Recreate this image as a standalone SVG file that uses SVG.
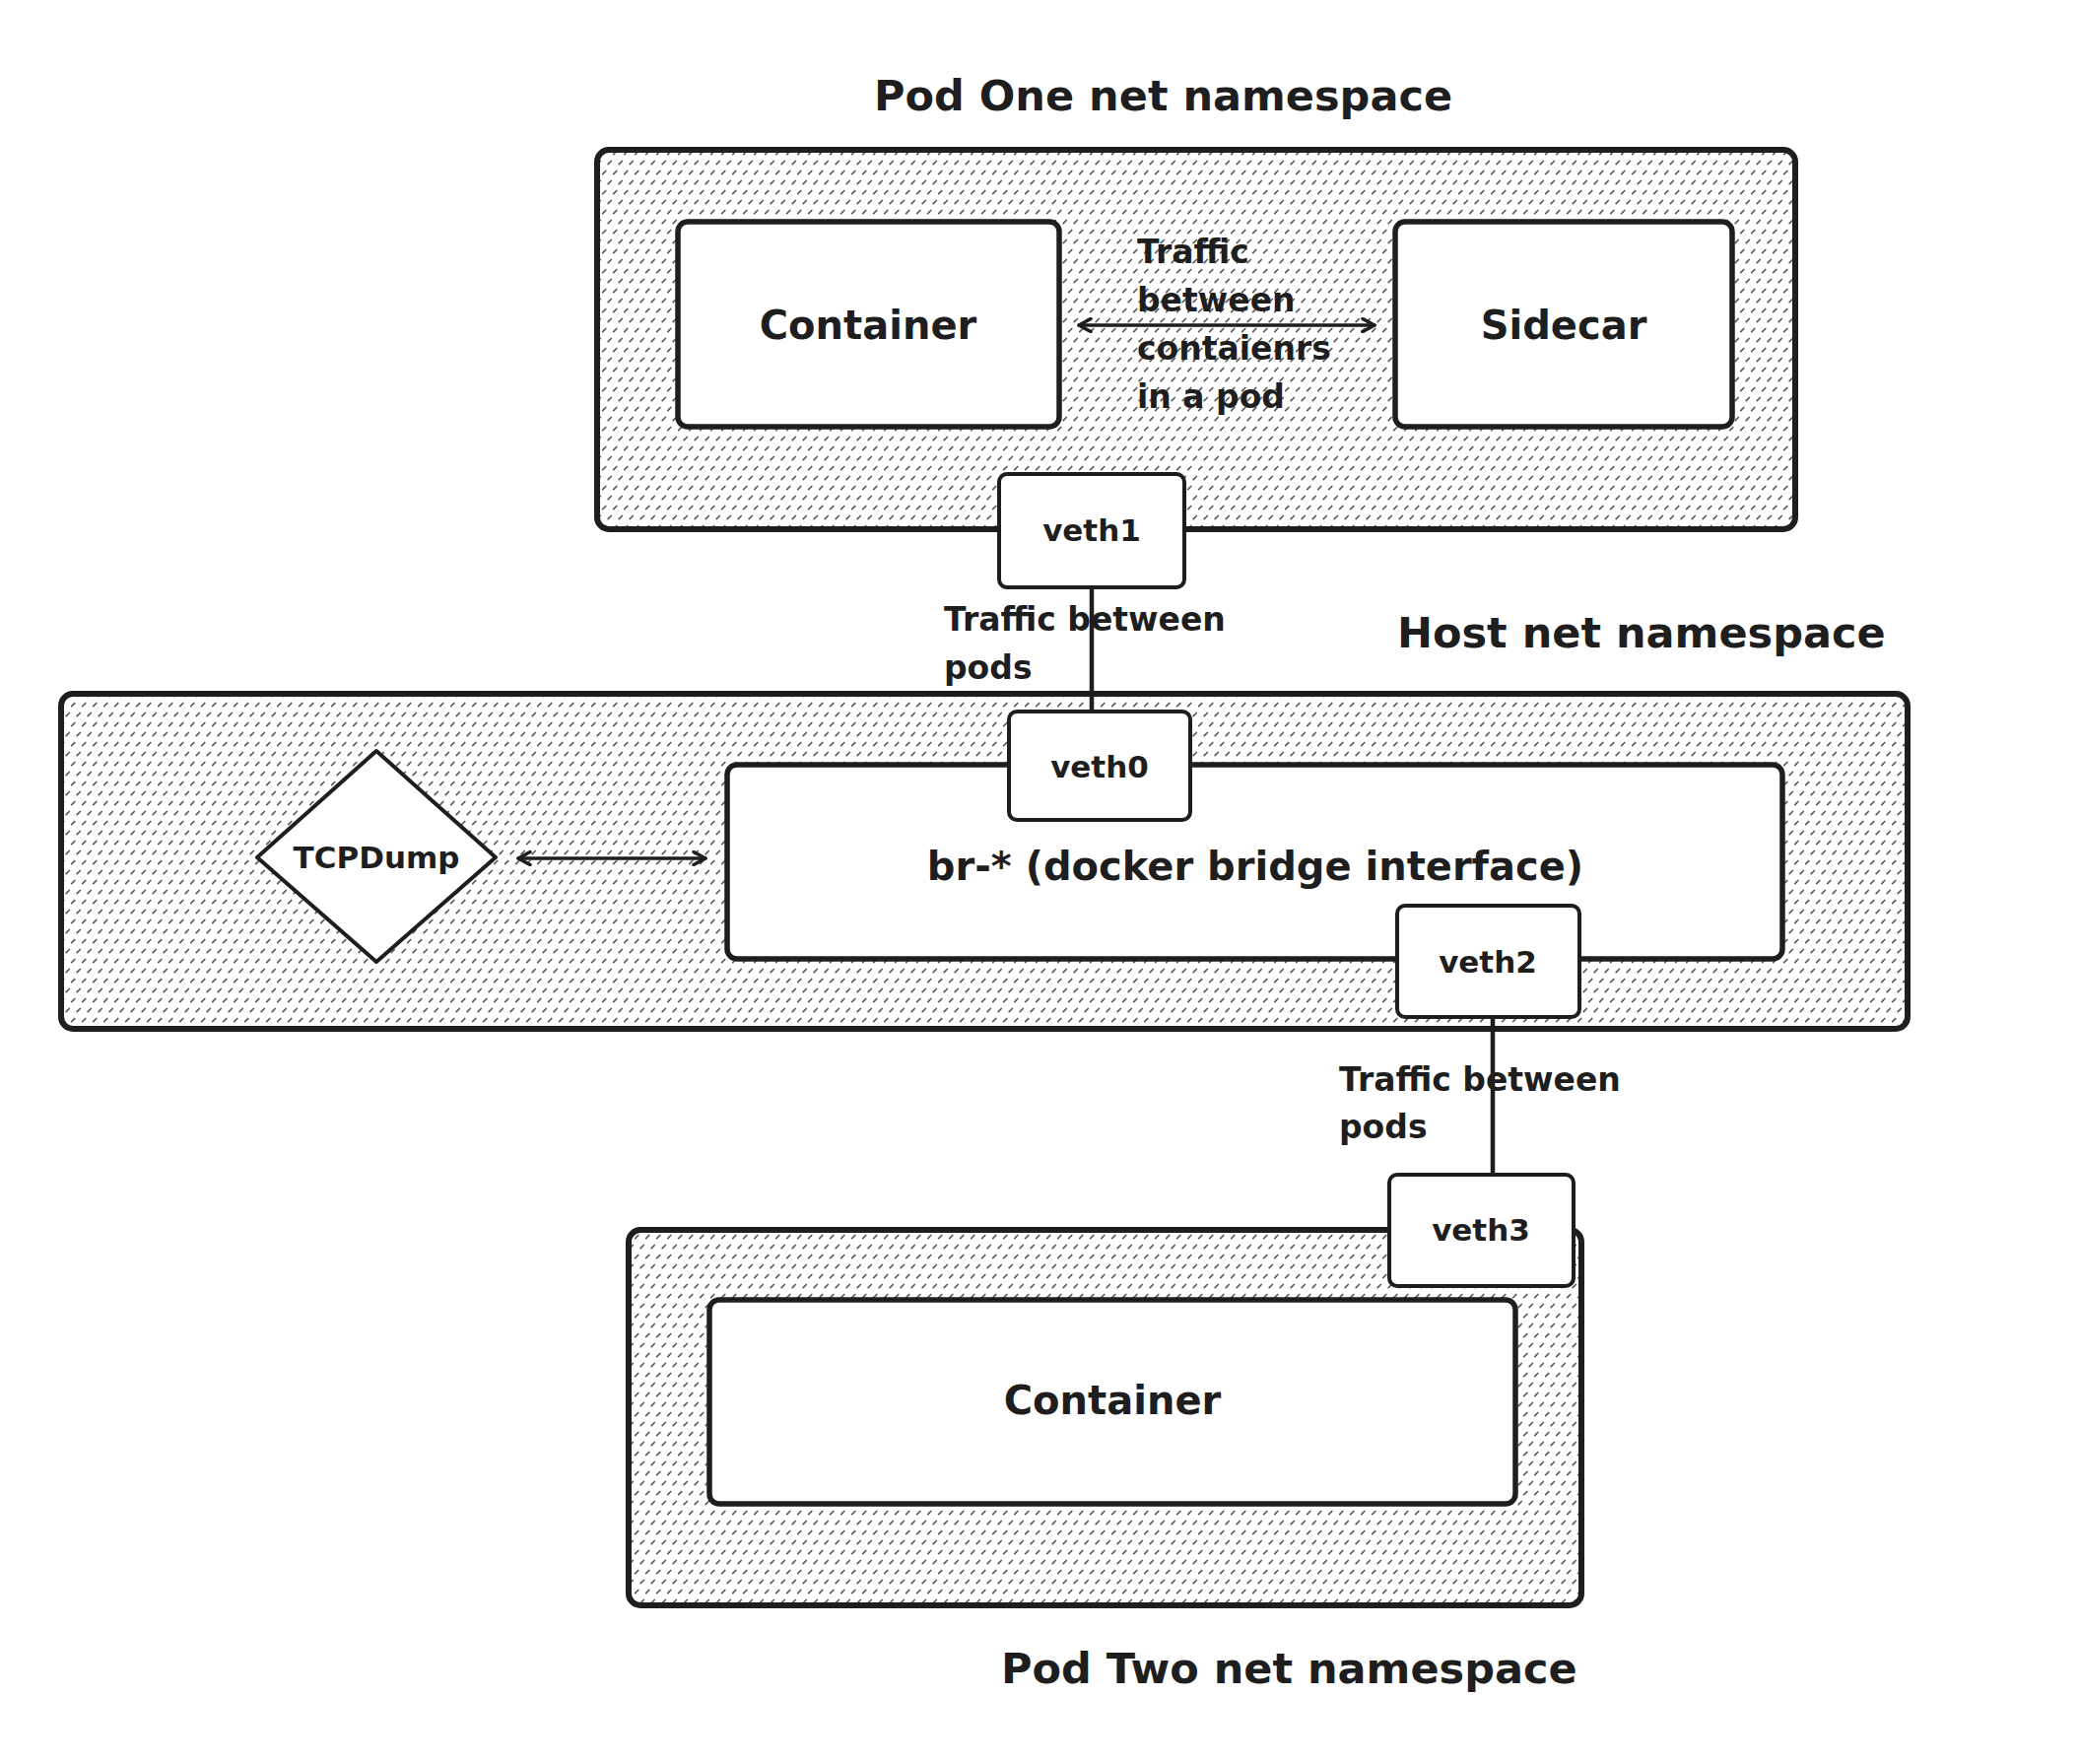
<svg xmlns="http://www.w3.org/2000/svg" width="2110" height="1790" viewBox="0 0 2110 1790">
  <style>
    .ns { fill: url(#hatch); stroke: #1e1e1e; stroke-width: 6; }
    .box { fill: #ffffff; stroke: #1e1e1e; stroke-width: 5.5; }
    .veth { fill: #ffffff; stroke: #1e1e1e; stroke-width: 4; }
    .t { font-family: "DejaVu Sans", "Liberation Sans", sans-serif; font-weight: bold; fill: #1e1e1e; }
    .title { font-size: 43px; }
    .lbl { font-size: 40px; text-anchor: middle; }
    .vl { font-size: 31px; text-anchor: middle; }
    .edge { font-size: 33px; }
    .wire { stroke: #1e1e1e; stroke-width: 4.5; fill: none; }
    .arrow { stroke: #1e1e1e; stroke-width: 3.5; fill: none; stroke-linecap: round; }
  </style>
  <defs>
    <pattern id="hatch" patternUnits="userSpaceOnUse" width="11" height="20">
      <rect width="11" height="20" fill="#ffffff"/>
      <path d="M1.2 6.6 L4.3 3.5 M6.7 16.6 L9.8 13.5" stroke="#5a5a5a" stroke-width="1.7" stroke-linecap="round"/>
    </pattern>
    <marker id="chev" viewBox="0 0 16 16" refX="14" refY="8" markerWidth="16" markerHeight="16" markerUnits="userSpaceOnUse" orient="auto-start-reverse">
      <path d="M2 1.5 L14 8 L2 14.5" fill="none" stroke="#1e1e1e" stroke-width="3.5" stroke-linecap="round" stroke-linejoin="round"/>
    </marker>
  </defs>

  <rect width="2110" height="1790" fill="#ffffff"/>

  <!-- Namespace boxes -->
  <g id="pod-one-ns">
    <rect class="ns" x="606" y="152" width="1216" height="385" rx="12"/>
    <text class="t title" x="887" y="112">Pod One net namespace</text>
  </g>
  <g id="host-ns">
    <rect class="ns" x="62" y="704" width="1874" height="340" rx="12"/>
    <text class="t title" x="1418" y="657">Host net namespace</text>
  </g>
  <g id="pod-two-ns">
    <rect class="ns" x="638" y="1248" width="967" height="381" rx="12"/>
    <text class="t title" x="1016" y="1708">Pod Two net namespace</text>
  </g>

  <!-- Inner nodes -->
  <g id="container-one">
    <rect class="box" x="688" y="225" width="387" height="208" rx="10"/>
    <text class="t lbl" x="881" y="344">Container</text>
  </g>
  <g id="sidecar">
    <rect class="box" x="1416" y="225" width="342" height="208" rx="10"/>
    <text class="t lbl" x="1587" y="344">Sidecar</text>
  </g>
  <g id="bridge">
    <rect class="box" x="738" y="776" width="1071" height="197" rx="10"/>
    <text class="t lbl" x="1274" y="893">br-* (docker bridge interface)</text>
  </g>
  <g id="tcpdump">
    <path d="M382 762 L503 870 L382 976 L261 870 Z" fill="#ffffff" stroke="#1e1e1e" stroke-width="4" stroke-linejoin="round"/>
    <text class="t vl" x="382" y="881">TCPDump</text>
  </g>
  <g id="container-two">
    <rect class="box" x="720" y="1319" width="818" height="207" rx="10"/>
    <text class="t lbl" x="1129" y="1435">Container</text>
  </g>

  <!-- Connectors -->
  <g id="connectors">
    <line class="arrow" x1="1095" y1="330" x2="1395" y2="330" marker-start="url(#chev)" marker-end="url(#chev)"/>
    <text class="t edge" x="1154" y="267">Traffic</text>
    <text class="t edge" x="1154" y="316">between</text>
    <text class="t edge" x="1154" y="365">contaienrs</text>
    <text class="t edge" x="1154" y="414">in a pod</text>

    <line class="arrow" x1="526" y1="871" x2="716" y2="871" marker-start="url(#chev)" marker-end="url(#chev)"/>

    <text class="t edge" x="958" y="640">Traffic between</text>
    <text class="t edge" x="958" y="689">pods</text>
    <line class="wire" x1="1108" y1="596" x2="1108" y2="722"/>

    <text class="t edge" x="1359" y="1107">Traffic between</text>
    <text class="t edge" x="1359" y="1155">pods</text>
    <line class="wire" x1="1515" y1="1032" x2="1515" y2="1192"/>
  </g>

  <!-- veth interfaces -->
  <g id="veth1">
    <rect class="veth" x="1014" y="481" width="188" height="115" rx="8"/>
    <text class="t vl" x="1108" y="549">veth1</text>
  </g>
  <g id="veth0">
    <rect class="veth" x="1024" y="722" width="184" height="110" rx="8"/>
    <text class="t vl" x="1116" y="789">veth0</text>
  </g>
  <g id="veth2">
    <rect class="veth" x="1418" y="919" width="185" height="113" rx="8"/>
    <text class="t vl" x="1510" y="987">veth2</text>
  </g>
  <g id="veth3">
    <rect class="veth" x="1410" y="1192" width="187" height="113" rx="8"/>
    <text class="t vl" x="1503" y="1259">veth3</text>
  </g>
</svg>
